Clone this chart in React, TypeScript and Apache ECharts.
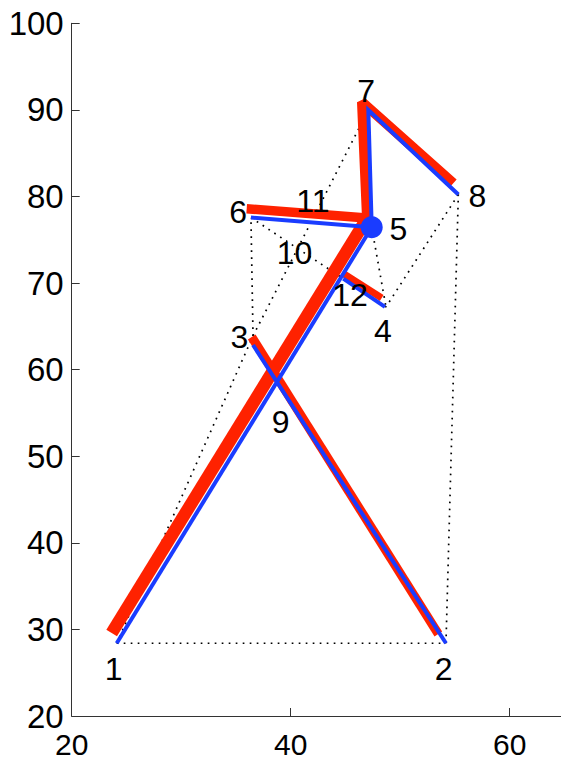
import React, { useEffect, useRef } from "react";
import * as echarts from "echarts";

// Node coordinates (nodes 1..8)
const nodeIds = ["1", "2", "3", "4", "5", "6", "7", "8"];
const nodeX = [24.11, 54.18, 36.56, 48.7, 47.4, 36.37, 47.09, 55.31];
const nodeY = [28.4, 28.4, 63.89, 67.24, 76.44, 77.56, 89.99, 80.22];

// Dotted connections between nodes (1-based ids)
const dottedFrom = [1, 1, 2, 3, 3, 6, 5, 8];
const dottedTo = [2, 3, 8, 6, 7, 4, 4, 4];

// Blue members (undeformed): polylines of [x, y]
const blueMembers: number[][][] = [
  [[24.11, 28.4], [47.4, 76.44]],
  [[36.56, 62.85], [54.18, 28.4]],
  [[36.37, 77.56], [47.4, 76.44]],
  [[47.4, 76.44], [47.09, 89.99], [55.31, 80.22]],
  [[44.8, 70.52], [48.61, 67.24]],
];

// Red members (deformed): polylines of [x, y]
const redMembers: number[][][] = [
  [[23.65, 29.59], [46.97, 77.49]],
  [[36.44, 63.77], [53.48, 29.47]],
  [[35.98, 78.59], [46.95, 77.52]],
  [[46.97, 77.49], [46.51, 90.9], [54.85, 81.52]],
  [[44.8, 71.1], [48.31, 68.28]],
];

// Text labels (nodes 1..8, elements 9..12)
const labelNames = ["1", "2", "3", "4", "5", "6", "7", "8", "9", "10", "11", "12"];
const labelX = [23.82, 53.96, 35.32, 48.43, 49.83, 35.19, 46.88, 57.06, 39.07, 40.35, 42.02, 45.42];
const labelY = [25.43, 25.43, 63.81, 64.47, 76.24, 78.24, 92.18, 80.08, 54.0, 73.44, 79.44, 68.62];

// Axis ticks
const xTicks = [20, 40, 60];
const yTicks = [20, 30, 40, 50, 60, 70, 80, 90, 100];

// Styles
const redWidths = [12.5, 9, 9.5, 10, 7];
const blueWidth = 4;
const RED = "#ff2200";
const BLUE = "#1a3cff";
const FONT = "'Liberation Sans', Arial, Helvetica, sans-serif";

export default function App() {
  const ref = useRef<HTMLDivElement>(null);

  useEffect(() => {
    if (!ref.current) return;
    const chart = echarts.init(ref.current, null, { renderer: "svg" });

    const series: any[] = [];

    dottedFrom.forEach((a, i) => {
      const b = dottedTo[i];
      series.push({
        type: "line",
        data: [
          [nodeX[a - 1], nodeY[a - 1]],
          [nodeX[b - 1], nodeY[b - 1]],
        ],
        symbol: "none",
        silent: true,
        z: 1,
        lineStyle: { color: "#000", width: 1.7, type: [1.7, 5.3], cap: "butt" },
      });
    });

    redMembers.forEach((pts, i) => {
      series.push({
        type: "line",
        data: pts,
        symbol: "none",
        silent: true,
        z: 2,
        lineStyle: { color: RED, width: redWidths[i], cap: "butt", join: "bevel" },
      });
    });

    blueMembers.forEach((pts) => {
      series.push({
        type: "line",
        data: pts,
        symbol: "none",
        silent: true,
        z: 3,
        lineStyle: { color: BLUE, width: blueWidth, cap: "butt", join: "miter" },
      });
    });

    series.push({
      type: "scatter",
      data: [[nodeX[4], nodeY[4]]],
      symbol: "circle",
      symbolSize: 22,
      silent: true,
      z: 4,
      itemStyle: { color: BLUE, opacity: 1 },
    });

    series.push({
      type: "scatter",
      data: labelNames.map((n, i) => ({ name: n, value: [labelX[i], labelY[i]] })),
      symbolSize: 1,
      silent: true,
      z: 5,
      itemStyle: { color: "transparent", opacity: 0 },
      label: {
        show: true,
        position: "inside",
        formatter: "{b}",
        color: "#000",
        opacity: 1,
        textBorderWidth: 0,
        fontSize: 32,
        fontFamily: FONT,
      },
    });

    chart.setOption({
      animation: false,
      backgroundColor: "#fff",
      grid: {
        left: 71.7,
        top: 23.3,
        width: 492.75,
        height: 692.7,
        containLabel: false,
        outerBoundsMode: "none",
      },
      xAxis: {
        type: "value",
        min: 20,
        max: 65,
        interval: 20,
        axisLine: { show: true, lineStyle: { color: "#333", width: 1 } },
        axisTick: { show: true, inside: true, length: 8, lineStyle: { color: "#333" } },
        splitLine: { show: false },
        axisLabel: {
          color: "#000",
          fontSize: 30,
          lineHeight: 24,
          fontFamily: FONT,
          margin: 16,
          formatter: (v: number) => (xTicks.includes(v) ? String(v) : ""),
        },
      },
      yAxis: {
        type: "value",
        min: 20,
        max: 100,
        interval: 10,
        axisLine: { show: true, lineStyle: { color: "#333", width: 1 } },
        axisTick: { show: true, inside: true, length: 8, lineStyle: { color: "#333" } },
        splitLine: { show: false },
        axisLabel: {
          color: "#000",
          fontSize: 33,
          fontFamily: FONT,
          margin: 8,
          formatter: (v: number) => (yTicks.includes(v) ? String(v) : ""),
        },
      },
      series,
    });

    return () => chart.dispose();
  }, []);

  return (
    <div
      ref={ref}
      style={{ position: "absolute", left: 0, top: 0, width: 561, height: 762, background: "#fff" }}
    />
  );
}
